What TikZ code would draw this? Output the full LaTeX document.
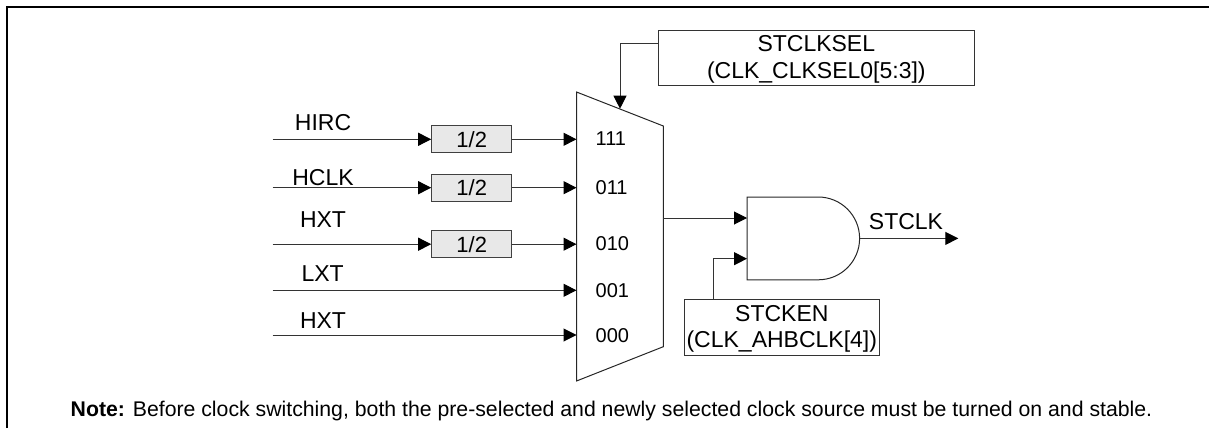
\documentclass[tikz,border=0pt]{standalone}
\usepackage{fontspec}
\setmainfont{Liberation Sans}
\usetikzlibrary{arrows.meta}
\tikzset{
  x=1pt,y=-1pt,
  wire/.style={draw=black!80,line width=1pt,-{Triangle[length=13pt,width=13pt,color=black]}},
  div/.style={draw=black!75,fill=black!9,line width=1pt,minimum width=80pt,minimum height=27.3pt,inner sep=0pt,font=\fontsize{22}{24}\selectfont},
  lab/.style={inner sep=0pt,font=\fontsize{23}{26}\selectfont},
  port/.style={inner sep=0pt,anchor=west,font=\fontsize{20}{22}\selectfont},
  reg/.style={draw=black!80,line width=1pt,inner sep=0pt,align=center,font=\fontsize{23}{26.5}\selectfont},
  shapeline/.style={draw=black!85,line width=1pt},
  frameline/.style={draw=black,line width=2pt},
}
\begin{document}
\begin{tikzpicture}
\useasboundingbox (0,0) rectangle (1209,428);
\draw[frameline] (6.8,428) -- (6.8,6.8) -- (1209,6.8);
% mux
\draw[shapeline] (576.5,92) -- (663.3,126) -- (663.3,346.7) -- (576.5,381) -- cycle;
\coordinate (muxtop) at (620,108.7);
\coordinate (muxout) at (663.3,218);
% dividers
\node[div] (d1) at (471.7,139.3) {1/2};
\node[div] (d2) at (471.7,187.7) {1/2};
\node[div] (d3) at (471.7,244.2) {1/2};
% inputs
\foreach \n/\y in {s1/139.3,s2/187.7,s3/244.2,s4/290.3,s5/335}{\coordinate (\n) at (272.7,\y);}
\foreach \n/\y in {m1/139.3,m2/187.7,m3/244.2,m4/290.3,m5/335}{\coordinate (\n) at (576.5,\y);}
\draw[wire] (s1) -- (d1);
\draw[wire] (s2) -- (d2);
\draw[wire] (s3) -- (d3);
\draw[wire] (d1) -- (m1);
\draw[wire] (d2) -- (m2);
\draw[wire] (d3) -- (m3);
\draw[wire] (s4) -- (m4);
\draw[wire] (s5) -- (m5);
\node[lab] (l1) at (323,122.5) {HIRC};
\node[lab] (l2) at (323,178) {HCLK};
\node[lab] (l3) at (323,219.5) {HXT};
\node[lab] (l4) at (322.7,273.5) {LXT};
\node[lab] (l5) at (323,320.5) {HXT};
\node[port] (p1) at (595.5,138.5) {111};
\node[port] (p2) at (595.5,187.5) {011};
\node[port] (p3) at (595.5,244) {010};
\node[port] (p4) at (595.5,290.8) {001};
\node[port] (p5) at (595.5,335.5) {000};
% select
\node[reg,minimum width=316pt,minimum height=55.3pt] (sel) at (816.3,57.7) {\rule{0pt}{19.5pt}STCLKSEL\\(CLK\_CLKSEL0[5:3])};
\coordinate (selout) at (658.3,43.7);
\draw[wire] (selout) -| (muxtop);
% and gate
\draw[shapeline] (747,197) -- (818.2,197) arc[start angle=-90,end angle=90,radius=41.4] -- (747,279.8) -- cycle;
\coordinate (and1) at (747,218);
\coordinate (and2) at (747,258.7);
\coordinate (andout) at (859.6,238.4);
\coordinate (end) at (958.3,238.4);
\draw[wire] (muxout) -- (and1);
\draw[wire] (andout) -- (end);
\node[lab] (lo) at (906,222) {STCLK};
\node[reg,minimum width=195pt,minimum height=55.7pt] (en) at (781.8,327.2) {\rule{0pt}{19.5pt}STCKEN\\(CLK\_AHBCLK[4])};
\coordinate (enout) at (713.3,299.3);
\draw[wire] (enout) |- (and2);
\node[inner sep=0pt,anchor=base west,font=\fontsize{21.25}{24}\selectfont] (note) at (70.5,416) {\textbf{Note:} Before clock switching, both the pre-selected and newly selected clock source must be turned on and stable.};
\end{tikzpicture}
\end{document}
